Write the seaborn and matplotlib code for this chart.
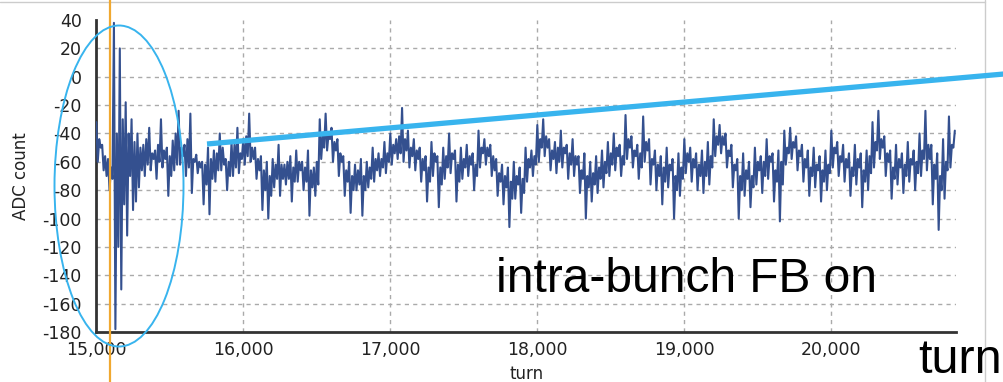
import numpy as np
import pandas as pd
import matplotlib
matplotlib.use("Agg")
import matplotlib.pyplot as plt
import matplotlib.ticker as mticker
from matplotlib.patches import Ellipse
from matplotlib.lines import Line2D
import seaborn as sns

# ADC count, one sample every 10 turns starting at turn 15,000
start_turn = 15000
turn_step = 10
adc = [
    -32, -60, -44, -50, -48, -66, -56, -70, -58, -80, -64, -72, 38, -178, -40, -120, 20, -150, -30, -90,
    -18, -112, -40, -70, -30, -94, -46, -88, -40, -78, -50, -66, -48, -70, -44, -62, -36, -66, -54, -58,
    -52, -72, -48, -60, -30, -64, -52, -58, -50, -84, -56, -70, -45, -66, -40, -62, -24, -62, -50, -56,
    -48, -70, -44, -64, -26, -82, -58, -60, -55, -68, -60, -64, -60, -90, -62, -76, -50, -97, -58, -72,
    -52, -74, -54, -66, -40, -66, -50, -62, -58, -80, -60, -70, -46, -70, -48, -64, -36, -68, -54, -58,
    -44, -62, -42, -56, -26, -60, -50, -58, -50, -72, -58, -66, -56, -94, -66, -80, -60, -100, -70, -84,
    -58, -78, -62, -72, -48, -84, -62, -72, -62, -76, -60, -72, -56, -88, -64, -74, -52, -74, -60, -66,
    -60, -80, -64, -74, -52, -98, -66, -78, -64, -84, -60, -76, -30, -58, -42, -50, -26, -52, -40, -44,
    -36, -60, -46, -52, -44, -70, -54, -60, -56, -84, -66, -74, -60, -96, -70, -80, -62, -80, -66, -76,
    -58, -98, -70, -80, -60, -78, -64, -72, -50, -74, -58, -66, -54, -70, -58, -64, -46, -68, -54, -60,
    -40, -62, -48, -54, -44, -58, -42, -54, -22, -60, -44, -52, -38, -64, -50, -56, -44, -66, -52, -58,
    -50, -74, -58, -66, -56, -88, -64, -74, -46, -70, -54, -60, -56, -92, -64, -76, -50, -72, -56, -64,
    -40, -68, -54, -58, -52, -88, -62, -74, -50, -72, -58, -64, -48, -70, -56, -62, -54, -80, -62, -70,
    -38, -64, -50, -54, -44, -62, -50, -56, -48, -70, -56, -66, -58, -84, -68, -74, -62, -90, -70, -78,
    -64, -106, -74, -86, -60, -86, -70, -76, -64, -96, -72, -82, -50, -74, -58, -64, -52, -70, -56, -62,
    -34, -60, -44, -50, -30, -56, -42, -50, -44, -66, -52, -58, -46, -68, -50, -60, -38, -64, -50, -54,
    -48, -72, -54, -62, -44, -70, -56, -62, -56, -82, -66, -72, -54, -100, -70, -78, -60, -88, -68, -76,
    -56, -82, -64, -72, -52, -78, -60, -68, -46, -70, -54, -62, -40, -66, -50, -56, -48, -70, -56, -62,
    -27, -58, -44, -50, -42, -64, -52, -56, -48, -72, -54, -64, -28, -60, -46, -52, -44, -76, -58, -62,
    -52, -80, -62, -70, -56, -90, -64, -74, -50, -78, -62, -66, -58, -100, -70, -80, -54, -84, -64, -72,
    -44, -68, -54, -60, -50, -74, -58, -64, -54, -80, -62, -70, -52, -82, -60, -70, -46, -76, -56, -64,
    -30, -56, -42, -48, -34, -54, -42, -48, -40, -64, -52, -56, -48, -78, -62, -66, -58, -100, -70, -80,
    -54, -84, -66, -72, -60, -92, -70, -78, -50, -76, -60, -66, -56, -82, -60, -70, -44, -72, -56, -60,
    -54, -88, -66, -74, -52, -102, -60, -76, -38, -62, -50, -54, -36, -58, -46, -50, -42, -66, -52, -56,
    -48, -74, -58, -64, -52, -84, -64, -70, -50, -78, -62, -66, -56, -88, -66, -74, -52, -80, -62, -68,
    -38, -64, -50, -54, -46, -70, -56, -60, -48, -74, -58, -64, -54, -84, -64, -70, -48, -76, -58, -64,
    -54, -92, -66, -74, -52, -80, -56, -68, -32, -64, -46, -52, -24, -58, -44, -50, -42, -70, -54, -60,
    -52, -86, -64, -72, -48, -76, -58, -64, -54, -82, -62, -70, -46, -74, -58, -62, -52, -80, -60, -68,
    -40, -70, -52, -58, -24, -66, -48, -58, -48, -90, -62, -72, -54, -108, -70, -80, -44, -86, -60, -66,
    -28, -64, -48, -50, -38,
]
x_ticks = [15000, 16000, 17000, 18000, 19000, 20000]
y_ticks = list(range(-180, 41, 20))

df = pd.DataFrame({"turn": start_turn + turn_step * np.arange(len(adc)), "adc": adc})

sns.set_style("white")
plt.rcParams["font.family"] = ["DejaVu Sans"]
plt.rcParams["axes.unicode_minus"] = False

fig = plt.figure(figsize=(10.04, 3.82), dpi=100)
ax = fig.add_axes([0.0959, 0.1309, 0.8563, 0.8167])

sns.lineplot(data=df, x="turn", y="adc", ax=ax, color="#34508f", lw=1.5,
             estimator=None, sort=False, zorder=3)

ax.set_xlim(15000, 20848)
ax.set_ylim(-180, 40)
ax.set_xticks(x_ticks)
ax.set_yticks(y_ticks)
ax.xaxis.set_minor_locator(mticker.MultipleLocator(250))
ax.yaxis.set_minor_locator(mticker.MultipleLocator(5))
ax.xaxis.set_major_formatter(mticker.FuncFormatter(lambda v, p: f"{int(v):,}"))

ax.grid(True, which="major", color="#aaaaaa", lw=1, ls=(0, (3, 3)))
for gl, t in zip(ax.yaxis.get_gridlines(), y_ticks):
    if t in (-180, 40):
        gl.set_visible(False)

for s in ["top", "right"]:
    ax.spines[s].set_visible(False)
for s in ["left", "bottom"]:
    ax.spines[s].set_color("#333333")
    ax.spines[s].set_linewidth(2)

ax.tick_params(which="major", direction="inout", length=7, width=1.2, color="#333333",
               labelsize=12.5, labelcolor="#222222")
ax.tick_params(which="minor", direction="inout", length=4, width=1, color="#333333")
ax.tick_params(axis="y", pad=7)
ax.tick_params(axis="x", pad=3)

ax.set_xlabel("turn", fontsize=12, color="#222222", labelpad=4)
ax.set_ylabel("ADC count", fontsize=12, color="#222222", labelpad=9)

# slide annotations in figure coordinates
W, H = 1004.0, 382.0
fig.add_artist(Line2D([0, 985 / W], [1 - 1.5 / H, 1 - 1.5 / H], color="#cccccc", lw=1,
                      transform=fig.transFigure))
fig.add_artist(Line2D([985 / W, 985 / W], [0, 1], color="#cccccc", lw=1,
                      transform=fig.transFigure))
fig.add_artist(Line2D([110 / W, 110 / W], [0, 1], color="#f0a830", lw=1.6,
                      transform=fig.transFigure, zorder=5))
fig.add_artist(Ellipse((119 / W, 1 - 186 / H), 129 / W, 321 / H, fill=False,
                       ec="#38b4ee", lw=1.4, transform=fig.transFigure, zorder=6))
fig.add_artist(Line2D([207 / W, 1004 / W], [1 - 144 / H, 1 - 74 / H], color="#38b4ee",
                      lw=3.8, transform=fig.transFigure, solid_capstyle="butt", zorder=6))

fig.text(496 / W, 1 - 292 / H, "intra-bunch FB on", fontsize=34.5,
         family=["Liberation Sans", "DejaVu Sans"], color="black", va="baseline")
fig.text(918 / W, 1 - 373 / H, "turn", fontsize=35,
         family=["Liberation Sans", "DejaVu Sans"], color="black", va="baseline")

fig.savefig("out.png", dpi=100)
